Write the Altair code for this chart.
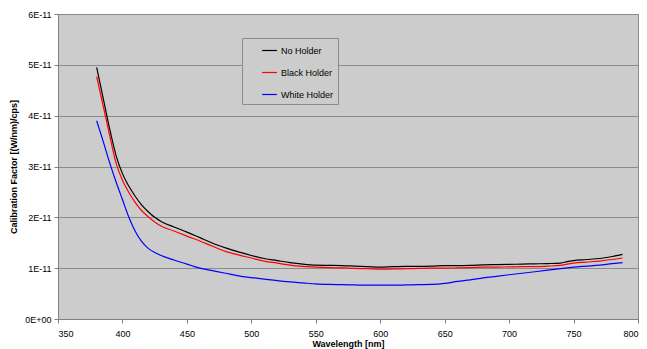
import altair as alt
import pandas as pd

# Wavelength [nm]
wavelength = [380, 385, 390, 395, 400, 405, 410, 415, 420, 425, 430, 440, 450, 460, 470,
              480, 490, 500, 510, 520, 530, 540, 550, 560, 570, 580, 590, 600, 610, 620,
              630, 640, 650, 660, 670, 680, 690, 700, 710, 720, 730, 740, 745, 750, 760,
              770, 780, 788]

# Calibration factor, in units of 1E-11 (W/nm)/cps
no_holder = [4.95, 4.35, 3.75, 3.22, 2.86, 2.61, 2.41, 2.24, 2.11, 2.00, 1.92, 1.81, 1.71, 1.60, 1.49,
             1.40, 1.32, 1.25, 1.19, 1.15, 1.11, 1.08, 1.06, 1.055, 1.05, 1.04, 1.03, 1.02, 1.03, 1.035,
             1.035, 1.04, 1.05, 1.05, 1.055, 1.065, 1.07, 1.075, 1.08, 1.085, 1.09, 1.10, 1.13, 1.15, 1.17,
             1.19, 1.23, 1.27]
black_holder = [4.77, 4.20, 3.62, 3.07, 2.73, 2.49, 2.29, 2.13, 2.01, 1.91, 1.83, 1.73, 1.63, 1.535, 1.43,
                1.33, 1.26, 1.20, 1.14, 1.10, 1.06, 1.035, 1.02, 1.01, 1.005, 0.995, 0.99, 0.98, 0.985, 0.99,
                0.995, 1.0, 1.0, 1.005, 1.01, 1.02, 1.02, 1.025, 1.03, 1.03, 1.04, 1.055, 1.08, 1.10, 1.12,
                1.14, 1.17, 1.20]
white_holder = [3.90, 3.50, 3.08, 2.70, 2.35, 2.00, 1.72, 1.52, 1.39, 1.31, 1.25, 1.16, 1.08, 1.00, 0.95,
                0.90, 0.85, 0.815, 0.785, 0.755, 0.73, 0.71, 0.69, 0.68, 0.675, 0.67, 0.665, 0.665, 0.665, 0.67,
                0.675, 0.68, 0.70, 0.74, 0.77, 0.81, 0.84, 0.87, 0.90, 0.93, 0.96, 0.99, 1.005, 1.02, 1.04,
                1.06, 1.09, 1.11]

series_names = ["No Holder", "Black Holder", "White Holder"]
series_colors = ["#000000", "#ff0000", "#0000ff"]
x_ticks = [350, 400, 450, 500, 550, 600, 650, 700, 750, 800]
y_ticks = [0, 1e-11, 2e-11, 3e-11, 4e-11, 5e-11, 6e-11]

rows = []
for k, (name, vals) in enumerate(zip(series_names, [no_holder, black_holder, white_holder])):
    for w, v in zip(wavelength, vals):
        rows.append({"wavelength": w, "factor": v * 1e-11, "series": name, "z": 2 - k})
df = pd.DataFrame(rows)

FONT = "Liberation Sans"

chart = alt.Chart(df).mark_line(strokeWidth=1.2, interpolate="monotone").encode(
    x=alt.X("wavelength:Q",
            scale=alt.Scale(domain=[350, 800], nice=False, zero=False),
            axis=alt.Axis(values=x_ticks, title="Wavelength [nm]", grid=False,
                          labelFontSize=9, titleFontSize=9, titleFontWeight="bold",
                          tickSize=4, titlePadding=1, labelPadding=6)),
    y=alt.Y("factor:Q",
            scale=alt.Scale(domain=[0, 6e-11], nice=False),
            axis=alt.Axis(values=y_ticks, title="Calibration Factor [(W/nm)/cps]",
                          labelExpr="datum.value == 0 ? '0E+00' : round(datum.value * 1e11) + 'E-11'",
                          grid=True, gridColor="#8c8c8c", gridWidth=1,
                          labelFontSize=9, titleFontSize=9, titleFontWeight="bold",
                          tickSize=4, titlePadding=6, labelPadding=3)),
    color=alt.Color("series:N",
                    scale=alt.Scale(domain=series_names, range=series_colors),
                    legend=alt.Legend(title=None, orient="none", legendX=184, legendY=24,
                                      fillColor="#cccccc", strokeColor="#8c8c8c",
                                      padding=4, symbolType="stroke", symbolSize=220,
                                      symbolStrokeWidth=1.2, symbolOffset=15,
                                      labelFontSize=9, labelFont=FONT, rowPadding=8,
                                      labelOffset=3,
                                      labelExpr="datum.label + '\u00a0\u00a0\u00a0\u00a0\u00a0'")),
    order=alt.Order("z:Q"),
).properties(
    width=580, height=305,
    autosize=alt.AutoSizeParams(type="none"),
    padding={"left": 50, "top": 6, "right": 1, "bottom": 30},
    background="white",
).configure_view(
    fill="#cccccc", stroke="#8c8c8c", strokeWidth=1
).configure_axis(
    labelFont=FONT, titleFont=FONT, labelColor="#000000", titleColor="#000000",
    domainColor="#808080", tickColor="#808080"
)

chart.save("out.html", embed_options={"renderer": "svg", "actions": False})
